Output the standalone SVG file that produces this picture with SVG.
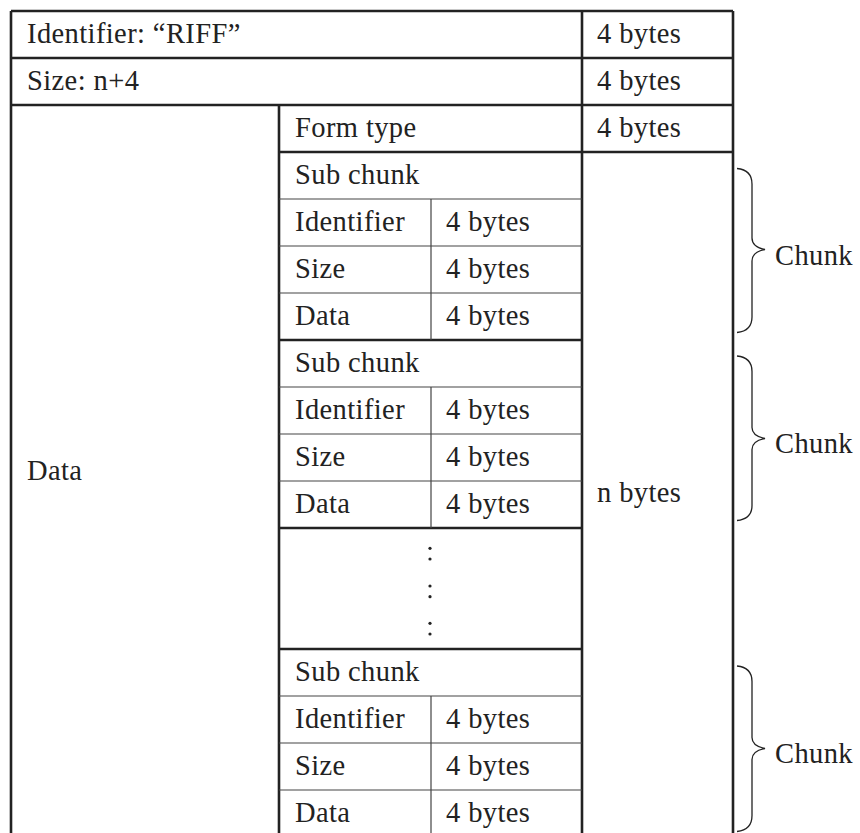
<svg xmlns="http://www.w3.org/2000/svg" width="860" height="833" viewBox="0 0 860 833">
<style>
.t{font-family:"Liberation Serif","Times New Roman",serif;font-size:28.5px;fill:#222;letter-spacing:0.4px}
.k{stroke:#222;stroke-width:2.6;fill:none}
.n{stroke:#444;stroke-width:1.2;fill:none}
.b{stroke:#222;stroke-width:1.3;fill:none}
</style>
<rect width="860" height="833" fill="#fff"/>
<g id="connectors">
<!-- thick lines -->
<path class="k" d="M11 11H733M11 58H733M11 105H733M279 152H733M279 340H582M279 528H582M279 649H582M11 11V833M279 105V833M582 11V833M733 11V833"/>
<!-- thin lines -->
<path class="n" d="M279 199H582M279 246H582M279 293H582M279 387H582M279 434H582M279 481H582M279 696H582M279 743H582M279 790H582M431 199V340M431 387V528M431 696V833"/>
</g>
<g id="header-identifier"><text class="t" x="27" y="43">Identifier: “RIFF”</text><text class="t" x="597" y="43">4 bytes</text></g>
<g id="header-size"><text class="t" x="27" y="90">Size: n+4</text><text class="t" x="597" y="90">4 bytes</text></g>
<g id="data"><text class="t" x="27" y="480">Data</text></g>
<g id="form-type"><text class="t" x="295" y="137">Form type</text><text class="t" x="597" y="137">4 bytes</text></g>
<g id="n-bytes"><text class="t" x="597" y="502">n bytes</text></g>
<g id="subchunk1">
<text class="t" x="295" y="184">Sub chunk</text>
<text class="t" x="295" y="231">Identifier</text><text class="t" x="446" y="231">4 bytes</text>
<text class="t" x="295" y="278">Size</text><text class="t" x="446" y="278">4 bytes</text>
<text class="t" x="295" y="325">Data</text><text class="t" x="446" y="325">4 bytes</text>
</g>
<g id="subchunk2">
<text class="t" x="295" y="372">Sub chunk</text>
<text class="t" x="295" y="419">Identifier</text><text class="t" x="446" y="419">4 bytes</text>
<text class="t" x="295" y="466">Size</text><text class="t" x="446" y="466">4 bytes</text>
<text class="t" x="295" y="513">Data</text><text class="t" x="446" y="513">4 bytes</text>
</g>
<g id="ellipsis" fill="#222">
<circle cx="430" cy="548.3" r="1.6"/><circle cx="430" cy="559" r="1.6"/>
<circle cx="430" cy="586" r="1.6"/><circle cx="430" cy="596.7" r="1.6"/>
<circle cx="430" cy="623.3" r="1.6"/><circle cx="430" cy="634" r="1.6"/>
</g>
<g id="subchunk3">
<text class="t" x="295" y="681">Sub chunk</text>
<text class="t" x="295" y="728">Identifier</text><text class="t" x="446" y="728">4 bytes</text>
<text class="t" x="295" y="775">Size</text><text class="t" x="446" y="775">4 bytes</text>
<text class="t" x="295" y="822">Data</text><text class="t" x="446" y="822">4 bytes</text>
</g>
<g id="chunk1">
<path class="b" d="M737 168.5Q752 170 752 184V238Q752 247 765 249.5Q752 252 752 261V317Q752 331 737 332.5"/>
<text class="t" x="775" y="265">Chunk</text>
</g>
<g id="chunk2">
<path class="b" d="M737 356Q752 357.5 752 371.5V427.5Q752 436 765 438.5Q752 441 752 449.5V505.5Q752 519 737 520.5"/>
<text class="t" x="775" y="453">Chunk</text>
</g>
<g id="chunk3">
<path class="b" d="M737 666Q752 667.5 752 681.5V737.5Q752 746 765 748.5Q752 751 752 759.5V815.5Q752 830 737 831.5"/>
<text class="t" x="775" y="763">Chunk</text>
</g>
</svg>
